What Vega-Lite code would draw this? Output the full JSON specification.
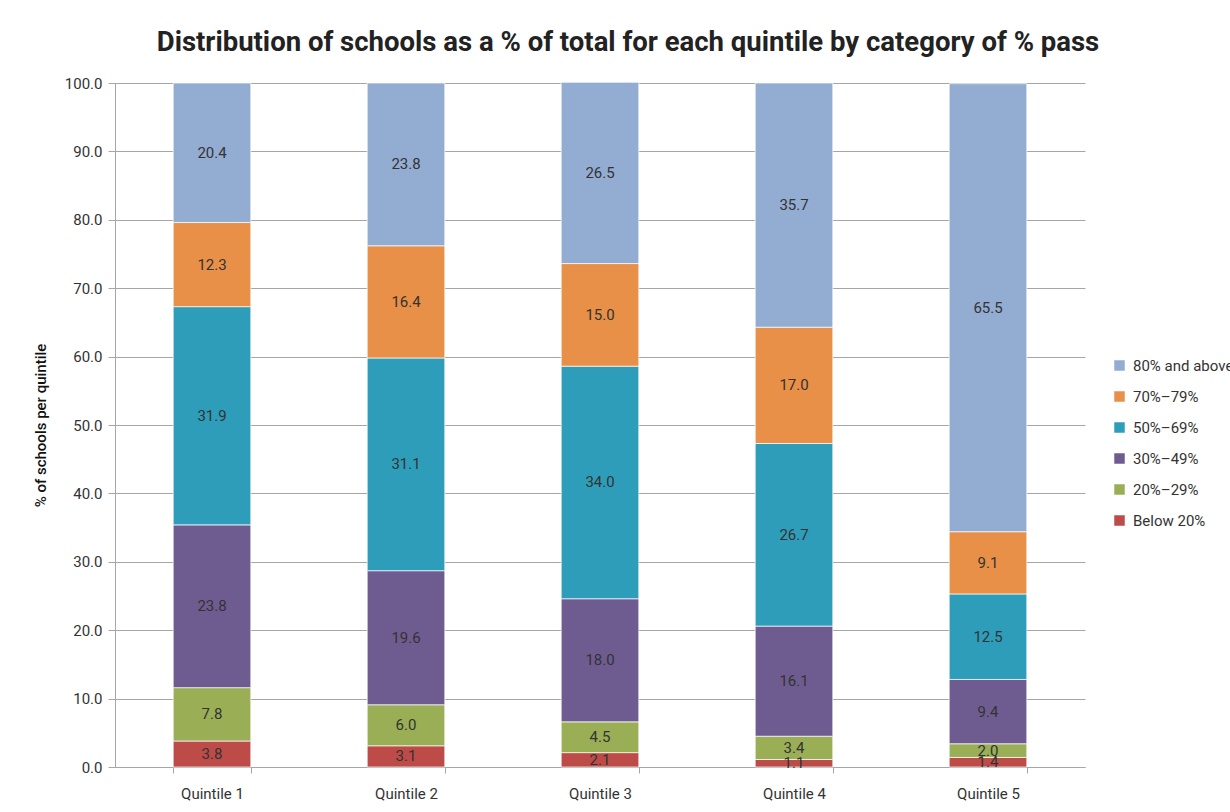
{
  "$schema": "https://vega.github.io/schema/vega-lite/v6.json",
  "autosize": "none",
  "width": 970,
  "height": 684,
  "padding": {"left": 115, "top": 83, "right": 145, "bottom": 45},
  "background": "white",
  "title": {
    "text": "Distribution of schools as a % of total for each quintile by category of % pass",
    "font": "Roboto",
    "fontSize": 27.5,
    "fontWeight": "bold",
    "color": "#222222",
    "anchor": "middle",
    "dx": 28,
    "offset": 20
  },
  "data": {
    "values": [
      {"q": "Quintile 1", "cat": "Below 20%", "k": 1, "v": 3.8},
      {"q": "Quintile 1", "cat": "20%–29%", "k": 2, "v": 7.8},
      {"q": "Quintile 1", "cat": "30%–49%", "k": 3, "v": 23.8},
      {"q": "Quintile 1", "cat": "50%–69%", "k": 4, "v": 31.9},
      {"q": "Quintile 1", "cat": "70%–79%", "k": 5, "v": 12.3},
      {"q": "Quintile 1", "cat": "80% and above", "k": 6, "v": 20.4},
      {"q": "Quintile 2", "cat": "Below 20%", "k": 1, "v": 3.1},
      {"q": "Quintile 2", "cat": "20%–29%", "k": 2, "v": 6.0},
      {"q": "Quintile 2", "cat": "30%–49%", "k": 3, "v": 19.6},
      {"q": "Quintile 2", "cat": "50%–69%", "k": 4, "v": 31.1},
      {"q": "Quintile 2", "cat": "70%–79%", "k": 5, "v": 16.4},
      {"q": "Quintile 2", "cat": "80% and above", "k": 6, "v": 23.8},
      {"q": "Quintile 3", "cat": "Below 20%", "k": 1, "v": 2.1},
      {"q": "Quintile 3", "cat": "20%–29%", "k": 2, "v": 4.5},
      {"q": "Quintile 3", "cat": "30%–49%", "k": 3, "v": 18.0},
      {"q": "Quintile 3", "cat": "50%–69%", "k": 4, "v": 34.0},
      {"q": "Quintile 3", "cat": "70%–79%", "k": 5, "v": 15.0},
      {"q": "Quintile 3", "cat": "80% and above", "k": 6, "v": 26.5},
      {"q": "Quintile 4", "cat": "Below 20%", "k": 1, "v": 1.1},
      {"q": "Quintile 4", "cat": "20%–29%", "k": 2, "v": 3.4},
      {"q": "Quintile 4", "cat": "30%–49%", "k": 3, "v": 16.1},
      {"q": "Quintile 4", "cat": "50%–69%", "k": 4, "v": 26.7},
      {"q": "Quintile 4", "cat": "70%–79%", "k": 5, "v": 17.0},
      {"q": "Quintile 4", "cat": "80% and above", "k": 6, "v": 35.7},
      {"q": "Quintile 5", "cat": "Below 20%", "k": 1, "v": 1.4},
      {"q": "Quintile 5", "cat": "20%–29%", "k": 2, "v": 2.0},
      {"q": "Quintile 5", "cat": "30%–49%", "k": 3, "v": 9.4},
      {"q": "Quintile 5", "cat": "50%–69%", "k": 4, "v": 12.5},
      {"q": "Quintile 5", "cat": "70%–79%", "k": 5, "v": 9.1},
      {"q": "Quintile 5", "cat": "80% and above", "k": 6, "v": 65.5}
    ]
  },
  "transform": [
    {"stack": "v", "groupby": ["q"], "sort": [{"field": "k", "order": "ascending"}], "as": ["v0", "v1"]},
    {"calculate": "(datum.v0 + datum.v1) / 2", "as": "mid"}
  ],
  "encoding": {
    "x": {
      "field": "q",
      "type": "nominal",
      "title": null,
      "scale": {"paddingInner": 0.6, "paddingOuter": 0.3},
      "axis": {
        "labelAngle": 0,
        "labelFont": "Roboto",
        "labelFontSize": 15,
        "labelColor": "#333333",
        "labelPadding": 13,
        "tickBand": "extent",
        "tickSize": 6,
        "tickColor": "#a6a6a6",
        "domainColor": "#a6a6a6",
        "grid": false
      }
    }
  },
  "layer": [
    {
      "mark": {"type": "bar", "stroke": "white", "strokeWidth": 0.7},
      "encoding": {
        "y": {
          "field": "v0",
          "type": "quantitative",
          "scale": {"domain": [0, 100], "nice": false},
          "title": "% of schools per quintile",
          "axis": {
            "values": [0, 10, 20, 30, 40, 50, 60, 70, 80, 90, 100],
            "format": ".1f",
            "labelFont": "Roboto",
            "labelFontSize": 15,
            "labelColor": "#333333",
            "labelPadding": 6,
            "tickSize": 7,
            "tickColor": "#a6a6a6",
            "domainColor": "#a6a6a6",
            "gridColor": "#a6a6a6",
            "gridWidth": 1,
            "titleFont": "Roboto",
            "titleFontSize": 15,
            "titleFontWeight": 500,
            "titleColor": "#111111",
            "titlePadding": 16
          }
        },
        "y2": {"field": "v1"},
        "color": {
          "field": "cat",
          "type": "nominal",
          "scale": {
            "domain": ["80% and above", "70%–79%", "50%–69%", "30%–49%", "20%–29%", "Below 20%"],
            "range": ["#93acd2", "#e88f48", "#2e9db9", "#6e5c90", "#9aae56", "#bd4b48"]
          },
          "legend": {
            "title": null,
            "orient": "none",
            "legendX": 997,
            "legendY": 275,
            "symbolType": "square",
            "symbolSize": 110,
            "symbolStrokeWidth": 0,
            "labelFont": "Roboto",
            "labelFontSize": 15,
            "labelColor": "#333333",
            "rowPadding": 15,
            "labelOffset": 6
          }
        },
        "order": {"field": "k"}
      }
    },
    {
      "mark": {"type": "text", "font": "Roboto", "fontSize": 15, "color": "#333333", "baseline": "middle"},
      "encoding": {
        "y": {"field": "mid", "type": "quantitative"},
        "text": {"field": "v", "type": "quantitative", "format": ".1f"}
      }
    }
  ],
  "config": {"view": {"stroke": null}}
}
